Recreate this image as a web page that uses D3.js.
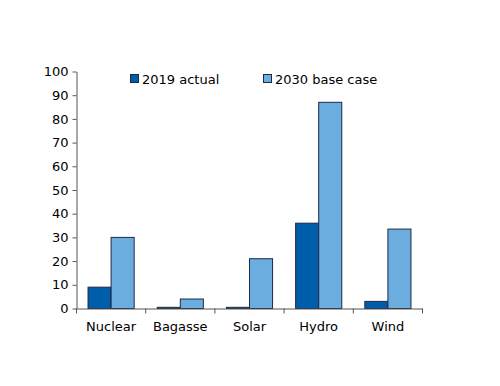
<!DOCTYPE html>
<html><head><meta charset="utf-8">
<script src="https://cdn.jsdelivr.net/npm/d3@7"></script>
<style>body{margin:0;background:#fff}svg{display:block}text{font-family:"DejaVu Sans",Verdana,sans-serif}</style>
</head><body><svg id="c" width="500" height="386"></svg>
<script>
const categories = ["Nuclear","Bagasse","Solar","Hydro","Wind"];
const seriesNames = ["2019 actual","2030 base case"];
const values2019 = [9, 0.5, 0.5, 36, 3];
const values2030 = [30, 4, 21, 87, 33.5];
const yTicks = [0,10,20,30,40,50,60,70,80,90,100];
const colors = ["#005DAA","#6CADE0"];

const svg = d3.select("#c");
const x = d3.scaleBand().domain(categories).range([76,422]).padding(0);
const xs = d3.scaleBand().domain(seriesNames).range([0,x.bandwidth()]).paddingInner(0).paddingOuter(0.5);
const y = d3.scaleLinear().domain([0,100]).range([308,71]);
const color = d3.scaleOrdinal().domain(seriesNames).range(colors);
const seriesVals = [values2019, values2030];

const data = categories.map((c,i)=>({cat:c, vals: seriesNames.map((s,j)=>({s, v: seriesVals[j][i]}))}));

const g = svg.append("g");
g.selectAll("g.grp").data(data).join("g").attr("class","grp")
 .attr("transform",d=>`translate(${x(d.cat)},0)`)
 .selectAll("rect").data(d=>d.vals).join("rect")
 .attr("x",d=>xs(d.s)+0.5).attr("width",xs.bandwidth())
 .attr("y",d=>y(d.v)+0.5).attr("height",d=>y(0)-y(d.v))
 .attr("fill",d=>color(d.s)).attr("stroke","#1b2a45").attr("stroke-width",1);

// y axis
const ya = svg.append("g").attr("transform","translate(76.5,0.5)")
 .call(d3.axisLeft(y).tickValues(yTicks).tickSize(4).tickPadding(4).tickSizeOuter(0));
ya.select(".domain").attr("stroke","#555");
ya.selectAll(".tick line").attr("stroke","#555");
ya.selectAll("text").attr("font-size",13).attr("fill","#000").attr("font-family","DejaVu Sans");

// x axis with ticks at category boundaries
const xa = svg.append("g").attr("transform","translate(0.5,308.5)")
 .call(d3.axisBottom(x).tickSize(0).tickPadding(13).tickSizeOuter(0));
xa.select(".domain").attr("stroke","#555");
xa.selectAll("text").attr("font-size",13).attr("fill","#000").attr("font-family","DejaVu Sans");
const bounds = categories.map(c=>x(c)).concat([x.range()[1]]);
svg.append("g").selectAll("line").data(bounds).join("line")
 .attr("x1",d=>d+0.5).attr("x2",d=>d+0.5).attr("y1",308.5).attr("y2",313.5)
 .attr("stroke","#555");

// legend
const legX = [130, 263];
const leg = svg.append("g").selectAll("g").data(seriesNames).join("g")
 .attr("transform",(d,i)=>`translate(${legX[i]},74)`);
leg.append("rect").attr("x",0.5).attr("y",0.5).attr("width",8).attr("height",8)
 .attr("fill",d=>color(d)).attr("stroke","#1b2a45");
leg.append("text").attr("x",12).attr("y",9.5).attr("font-size",13).text(d=>d);
</script></body></html>
